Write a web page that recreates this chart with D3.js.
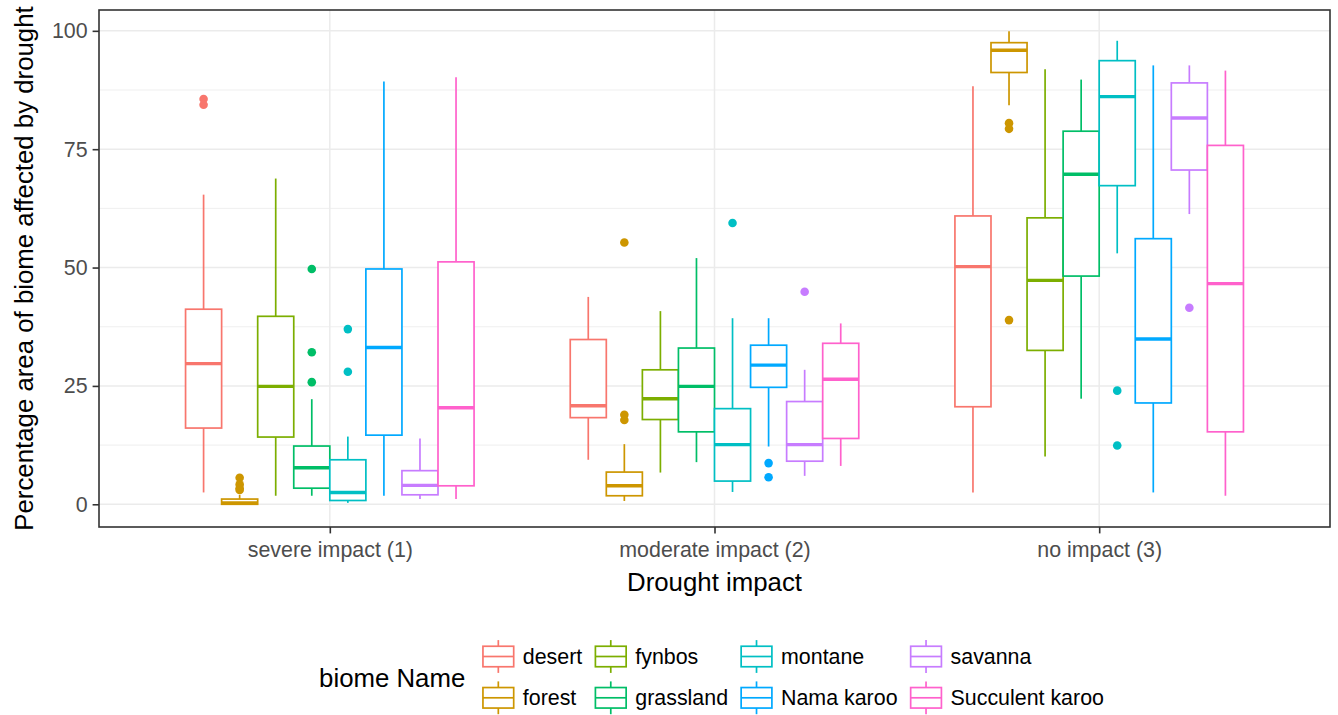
<!DOCTYPE html>
<html>
<head>
<meta charset="utf-8">
<script src="https://d3js.org/d3.v7.min.js"></script>
<style>
  body { margin: 0; background: #fff; }
  text { font-family: "Liberation Sans", Arial, sans-serif; }
</style>
</head>
<body>
<div id="chartDiv"></div>
<script>
// ---- data ----
const impacts = ["severe impact (1)", "moderate impact (2)", "no impact (3)"];
const biomes = ["desert", "forest", "fynbos", "grassland", "montane", "Nama karoo", "savanna", "Succulent karoo"];
const biomeColors = ["#F8766D", "#CD9600", "#7CAE00", "#00BE67", "#00BFC4", "#00A9FF", "#C77CFF", "#FF61CC"];
const yTicks = [0, 25, 50, 75, 100];
const yMinorTicks = [12.5, 37.5, 62.5, 87.5];

// [lower whisker, Q1, median, Q3, upper whisker], one row per biome
const severeStats = [
  [2.5, 16.1, 29.7, 41.2, 65.4],
  [0, 0, 0.3, 1.1, 2.0],
  [1.8, 14.2, 24.9, 39.7, 68.8],
  [1.8, 3.4, 7.7, 12.3, 22.2],
  [0.3, 0.8, 2.5, 9.4, 14.3],
  [1.8, 14.6, 33.1, 49.7, 89.3],
  [1.1, 2.0, 4.0, 7.1, 13.9],
  [1.1, 3.9, 20.4, 51.2, 90.2]
];
const moderateStats = [
  [9.4, 18.3, 20.8, 34.8, 43.8],
  [0.7, 1.8, 3.9, 6.8, 12.7],
  [6.7, 17.9, 22.3, 28.4, 40.8],
  [8.9, 15.3, 24.9, 33.0, 52.0],
  [2.6, 4.9, 12.6, 20.2, 39.3],
  [12.2, 24.7, 29.4, 33.6, 39.3],
  [6.0, 9.1, 12.6, 21.7, 28.4],
  [8.1, 13.9, 26.4, 34.0, 38.2]
];
const noImpactStats = [
  [2.5, 20.6, 50.2, 60.9, 88.3],
  [84.3, 91.2, 95.9, 97.5, 99.9],
  [10.1, 32.5, 47.3, 60.5, 91.9],
  [22.3, 48.2, 69.7, 78.8, 89.7],
  [53.0, 67.3, 86.1, 93.7, 97.9],
  [2.5, 21.4, 34.9, 56.1, 92.7],
  [61.3, 70.6, 81.6, 89.0, 92.7],
  [1.8, 15.3, 46.6, 75.8, 91.6]
];
const severeOutliers = [[85.6, 84.4], [5.6, 4.2, 3.4, 3.0], [], [49.7, 32.1, 25.8], [37.0, 28.0], [], [], []];
const moderateOutliers = [[], [55.3, 18.9, 17.8], [], [], [59.4], [8.7, 5.7], [44.9], []];
const noImpactOutliers = [[], [80.5, 79.3, 38.9], [], [], [24.0, 12.4], [], [41.5], []];

const statsByImpact = [severeStats, moderateStats, noImpactStats];
const outliersByImpact = [severeOutliers, moderateOutliers, noImpactOutliers];

// ---- layout ----
const W = 1338, H = 715;
const panel = { left: 99, right: 1330, top: 10, bottom: 527 };
const axisGrey = "#333333";
const labelGrey = "#4D4D4D";
const smallFont = "21.4px", bigFont = "25.8px";

const svg = d3.select("#chartDiv").append("svg")
  .attr("width", W).attr("height", H);

const x = d3.scalePoint()
  .domain(impacts)
  .range([panel.left, panel.right])
  .padding(0.6);

const dodge = d3.scaleBand()
  .domain(biomes)
  .range([-0.375 * x.step(), 0.375 * x.step()]);

const y = d3.scaleLinear()
  .domain([-4.8, 104.4])
  .range([panel.bottom, panel.top]);

const color = d3.scaleOrdinal().domain(biomes).range(biomeColors);

// grid
const grid = svg.append("g");
grid.selectAll(".minor").data(yMinorTicks).enter().append("line")
  .attr("x1", panel.left).attr("x2", panel.right)
  .attr("y1", d => y(d)).attr("y2", d => y(d))
  .attr("stroke", "#EBEBEB").attr("stroke-width", 0.8);
grid.selectAll(".major").data(yTicks).enter().append("line")
  .attr("x1", panel.left).attr("x2", panel.right)
  .attr("y1", d => y(d)).attr("y2", d => y(d))
  .attr("stroke", "#EBEBEB").attr("stroke-width", 1.5);
grid.selectAll(".vmajor").data(impacts).enter().append("line")
  .attr("x1", d => x(d)).attr("x2", d => x(d))
  .attr("y1", panel.top).attr("y2", panel.bottom)
  .attr("stroke", "#EBEBEB").attr("stroke-width", 1.5);

// boxes
const boxData = [];
impacts.forEach((imp, gi) => {
  biomes.forEach((b, bi) => {
    const s = statsByImpact[gi][bi];
    boxData.push({ imp, biome: b, lo: s[0], q1: s[1], med: s[2], q3: s[3], hi: s[4], out: outliersByImpact[gi][bi] });
  });
});

const bw = dodge.bandwidth();
const boxes = svg.append("g").selectAll("g").data(boxData).enter().append("g")
  .attr("transform", d => `translate(${x(d.imp) + dodge(d.biome)},0)`)
  .attr("stroke", d => color(d.biome));

boxes.append("line")
  .attr("x1", bw / 2).attr("x2", bw / 2)
  .attr("y1", d => y(d.hi)).attr("y2", d => y(d.q3))
  .attr("stroke-width", 1.7);
boxes.append("line")
  .attr("x1", bw / 2).attr("x2", bw / 2)
  .attr("y1", d => y(d.q1)).attr("y2", d => y(d.lo))
  .attr("stroke-width", 1.7);
boxes.append("rect")
  .attr("x", 0).attr("width", bw)
  .attr("y", d => y(d.q3)).attr("height", d => Math.max(0.5, y(d.q1) - y(d.q3)))
  .attr("fill", "#fff").attr("stroke-width", 1.7);
boxes.append("line")
  .attr("x1", 0).attr("x2", bw)
  .attr("y1", d => y(d.med)).attr("y2", d => y(d.med))
  .attr("stroke-width", 3.4);
boxes.selectAll("circle").data(d => d.out.map(v => ({ v, biome: d.biome }))).enter().append("circle")
  .attr("cx", bw / 2).attr("cy", d => y(d.v)).attr("r", 4.3)
  .attr("fill", d => color(d.biome)).attr("stroke", "none");

// panel border
svg.append("rect")
  .attr("x", panel.left).attr("y", panel.top)
  .attr("width", panel.right - panel.left).attr("height", panel.bottom - panel.top)
  .attr("fill", "none").attr("stroke", axisGrey).attr("stroke-width", 1.6);

// axes
const yAxis = svg.append("g")
  .attr("transform", `translate(${panel.left},0)`)
  .call(d3.axisLeft(y).tickValues(yTicks).tickSize(6.4).tickPadding(5));
const xAxis = svg.append("g")
  .attr("transform", `translate(0,${panel.bottom})`)
  .call(d3.axisBottom(x).tickSize(6.4).tickPadding(5));
[yAxis, xAxis].forEach(a => {
  a.select(".domain").remove();
  a.selectAll(".tick line").attr("stroke", axisGrey).attr("stroke-width", 1.6);
  a.selectAll(".tick text")
    .attr("fill", labelGrey)
    .style("font-size", smallFont)
    .style("font-family", "'Liberation Sans', Arial, sans-serif");
});
xAxis.selectAll(".tick text").attr("dy", null).attr("y", 30.3);

// axis titles
svg.append("text")
  .attr("x", (panel.left + panel.right) / 2).attr("y", 591)
  .attr("text-anchor", "middle")
  .style("font-size", bigFont)
  .text("Drought impact");
svg.append("text")
  .attr("transform", `translate(33,${(panel.top + panel.bottom) / 2}) rotate(-90)`)
  .attr("text-anchor", "middle")
  .style("font-size", bigFont)
  .text("Percentage area of biome affected by drought");

// legend (2 rows, filled by column)
const keySize = 41, labelPad = 4, colGap = 8, titleGap = 12.5;
const rowTop = [636, 677.3];
const legend = svg.append("g");
const title = legend.append("text")
  .attr("y", 687).style("font-size", bigFont).text("biome Name");
const titleW = title.node().getComputedTextLength();

const nCols = Math.ceil(biomes.length / 2);
const cols = d3.range(nCols).map(c => biomes.slice(c * 2, c * 2 + 2));
// measure labels
const measure = legend.append("text").style("font-size", smallFont);
const colWidths = cols.map(c => d3.max(c, b => { measure.text(b); return measure.node().getComputedTextLength(); }));
measure.remove();
const totalW = titleW + titleGap + d3.sum(colWidths, w => keySize + labelPad + w) + colGap * (nCols - 1);
const legendLeft = (panel.left + panel.right) / 2 - 3 - totalW / 2;
title.attr("x", legendLeft);

let cx = legendLeft + titleW + titleGap;
cols.forEach((c, ci) => {
  c.forEach((b, ri) => {
    const g = legend.append("g").attr("transform", `translate(${cx},${rowTop[ri]})`);
    const col = color(b);
    g.append("line").attr("x1", keySize / 2).attr("x2", keySize / 2)
      .attr("y1", keySize * 0.1).attr("y2", keySize * 0.9)
      .attr("stroke", col).attr("stroke-width", 1.7);
    g.append("rect").attr("x", keySize * 0.125).attr("width", keySize * 0.75)
      .attr("y", keySize * 0.25).attr("height", keySize * 0.5)
      .attr("fill", "#fff").attr("stroke", col).attr("stroke-width", 1.7);
    g.append("line").attr("x1", keySize * 0.125).attr("x2", keySize * 0.875)
      .attr("y1", keySize / 2).attr("y2", keySize / 2)
      .attr("stroke", col).attr("stroke-width", 1.7);
    g.append("text").attr("x", keySize + labelPad).attr("y", keySize / 2 + 7.5)
      .style("font-size", smallFont).text(b);
  });
  cx += keySize + labelPad + colWidths[ci] + colGap;
});
</script>
</body>
</html>
